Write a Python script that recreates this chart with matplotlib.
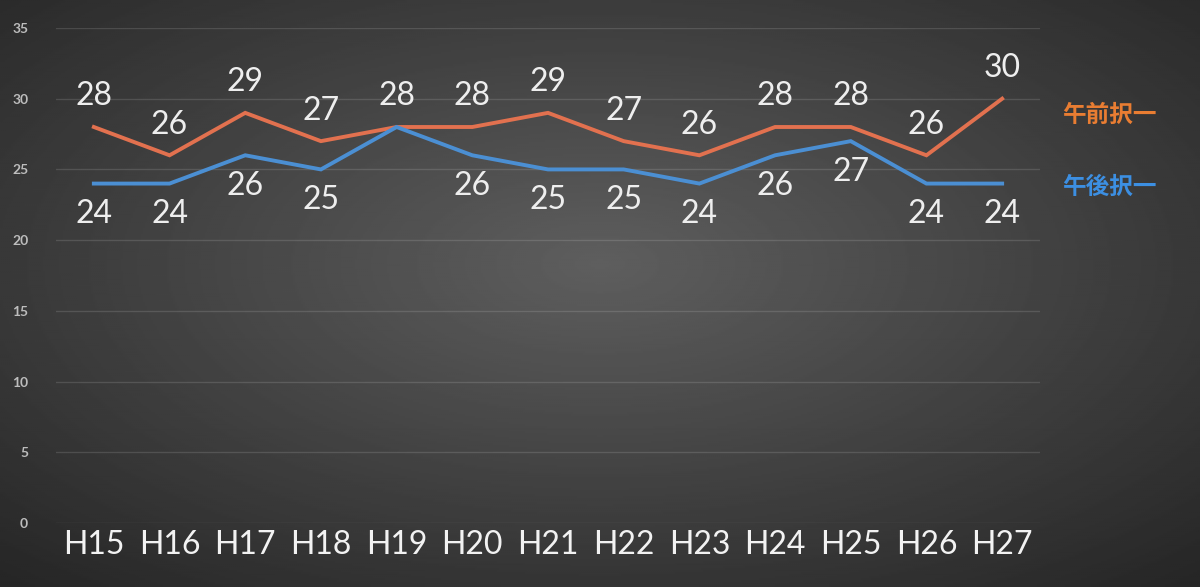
import numpy as np
import matplotlib
matplotlib.use('Agg')
import matplotlib.pyplot as plt

plt.rcParams['font.family'] = ['Lato', 'Noto Sans CJK JP', 'DejaVu Sans']

years = ['H15', 'H16', 'H17', 'H18', 'H19', 'H20', 'H21', 'H22', 'H23', 'H24', 'H25', 'H26', 'H27']
gozen = [28, 26, 29, 27, 28, 28, 29, 27, 26, 28, 28, 26, 30]
gogo = [24, 24, 26, 25, 28, 26, 25, 25, 24, 26, 27, 24, 24]
yticks = [0, 5, 10, 15, 20, 25, 30, 35]

fig = plt.figure(figsize=(12, 5.87), dpi=100)

# 背景：中央が明るいグラデーション
bg = fig.add_axes([0, 0, 1, 1], zorder=-10)
yy, xx = np.mgrid[0:1:300j, 0:1:600j]
r = np.sqrt(((xx - 0.5) / 0.8) ** 2 + ((yy - 0.45) / 0.8) ** 2)
shade = np.clip(0.37 - 0.24 * r, 0.15, 0.37)
bg.imshow(shade, cmap='gray', vmin=0, vmax=1, aspect='auto', extent=[0, 1, 0, 1])
bg.axis('off')

ax = fig.add_axes([56 / 1200, 64 / 587, 984 / 1200, 495 / 587])
ax.patch.set_alpha(0)
x = np.arange(len(years))

ax.plot(x, gozen, color='#e2714f', lw=2.8, solid_joinstyle='miter', zorder=3)
ax.plot(x, gogo, color='#4b8fd3', lw=2.8, solid_joinstyle='miter', zorder=3)

for i in range(len(years)):
    ax.annotate(str(gozen[i]), (x[i], gozen[i]), xytext=(0, 22), textcoords='offset points',
                ha='center', va='center', fontsize=23, color='#eeeeee')
    if gogo[i] == gozen[i]:
        continue  # 重なるラベルは省略
    ax.annotate(str(gogo[i]), (x[i], gogo[i]), xytext=(0, -22), textcoords='offset points',
                ha='center', va='center', fontsize=23, color='#eeeeee')

ax.set_xlim(-0.5, len(years) - 0.5)
ax.set_ylim(0, 35)
ax.set_yticks(yticks)
ax.set_xticks(x)
ax.set_xticklabels(years, fontsize=23, color='#f2f2f2')
ax.tick_params(axis='y', labelsize=10, colors='#bdbdbd', length=0, pad=20)
ax.tick_params(axis='x', length=0, pad=5)
for lbl in ax.get_yticklabels():
    lbl.set_fontweight('bold')
ax.grid(axis='y', color='white', alpha=0.13, lw=1)
for s in ax.spines.values():
    s.set_visible(False)

fig.text(1062 / 1200, 1 - 115 / 587, '午前択一', color='#e97d32', fontsize=17,
         fontweight='bold', va='center', family=['Noto Sans CJK JP'])
fig.text(1062 / 1200, 1 - 187 / 587, '午後択一', color='#3c8fe2', fontsize=17,
         fontweight='bold', va='center', family=['Noto Sans CJK JP'])

fig.savefig('out.png', dpi=100)
